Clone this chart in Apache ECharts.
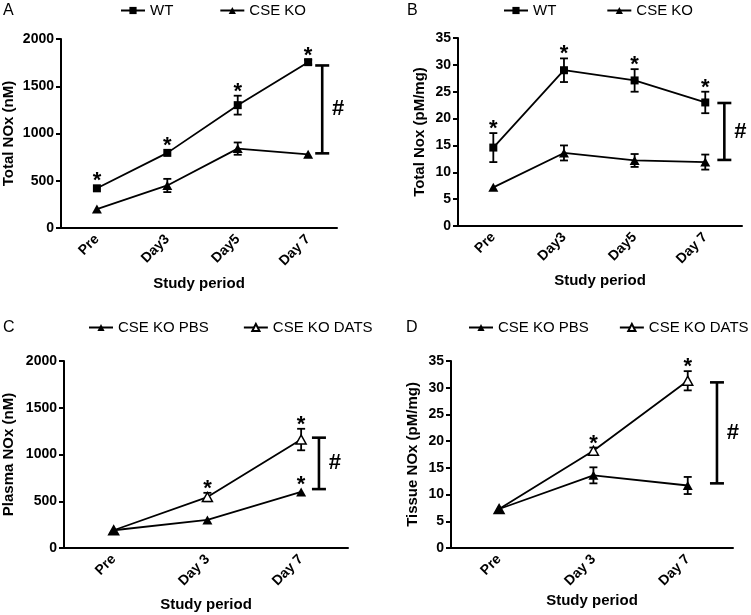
<!DOCTYPE html>
<html><head><meta charset="utf-8">
<script src="https://cdn.jsdelivr.net/npm/echarts@6/dist/echarts.min.js"></script>
<style>html,body{margin:0;padding:0;background:#fff}#c{width:751px;height:615px}</style>
</head><body><div id="c"></div>
<script>
// ---------- data ----------
const catsAB = ['Pre', 'Day3', 'Day5', 'Day 7'];
const catsCD = ['Pre', 'Day 3', 'Day 7'];

// Panel A: Total NOx (nM)
const A_WT = [420, 795, 1300, 1755];
const A_WT_err = [0, 0, 100, 25];
const A_KO = [200, 450, 840, 780];
const A_KO_err = [0, 70, 65, 0];
const A_bracket = [790, 1720];

// Panel B: Total Nox (pM/mg)
const B_WT = [14.6, 29.0, 27.1, 23.0];
const B_WT_err = [2.7, 2.2, 2.1, 2.0];
const B_KO = [7.2, 13.6, 12.2, 11.9];
const B_KO_err = [0, 1.4, 1.2, 1.4];
const B_bracket = [12.3, 22.9];

// Panel C: Plasma NOx (nM)
const C_PBS = [190, 300, 600];
const C_PBS_err = [0, 0, 0];
const C_DATS = [190, 545, 1160];
const C_DATS_err = [0, 45, 115];
const C_bracket = [630, 1180];

// Panel D: Tissue NOx (pM/mg)
const D_PBS = [7.3, 13.6, 11.7];
const D_PBS_err = [0, 1.5, 1.6];
const D_DATS = [7.3, 18.2, 31.3];
const D_DATS_err = [0, 0.6, 1.8];
const D_bracket = [12.1, 31.0];

// significance marks: [series key, category index]
const A_stars = [['WT', 0], ['WT', 1], ['WT', 2], ['WT', 3]];
const B_stars = [['WT', 0], ['WT', 1], ['WT', 2], ['WT', 3]];
const C_stars = [['DATS', 1], ['DATS', 2], ['PBS', 2]];
const D_stars = [['DATS', 1], ['DATS', 2]];

const yTicksA = {min: 0, max: 2000, interval: 500};
const yTicksB = {min: 0, max: 35, interval: 5};

// ---------- helpers ----------
const FONT = 'Liberation Sans, Arial, sans-serif';
const panels = [
  {grid: {left: 60, top: 39, width: 277, height: 189}, xr: [-0.51, 3.41], cats: catsAB, y: yTicksA,
   yname: 'Total NOx (nM)', ygap: 45, xgap: 48,
   series: {WT: [A_WT, A_WT_err, 'rect', '#000'], KO: [A_KO, A_KO_err, 'triangle', '#000']},
   names: {WT: 'WT', KO: 'CSE KO'}, stars: A_stars, bracket: [3.2, A_bracket], order: ['WT', 'KO']},
  {grid: {left: 458, top: 38, width: 284, height: 188}, xr: [-0.5, 3.52], cats: catsAB, y: yTicksB,
   yname: 'Total Nox (pM/mg)', ygap: 31, xgap: 47,
   series: {WT: [B_WT, B_WT_err, 'rect', '#000'], KO: [B_KO, B_KO_err, 'triangle', '#000']},
   names: {WT: 'WT', KO: 'CSE KO'}, stars: B_stars, bracket: [3.27, B_bracket], order: ['WT', 'KO']},
  {grid: {left: 63, top: 361, width: 285, height: 187}, xr: [-0.53, 2.5], cats: catsCD, y: yTicksA,
   yname: 'Plasma NOx (nM)', ygap: 48, xgap: 49,
   series: {PBS: [C_PBS, C_PBS_err, 'triangle', '#000'], DATS: [C_DATS, C_DATS_err, 'triangle', '#fff']},
   names: {PBS: 'CSE KO PBS', DATS: 'CSE KO DATS'}, stars: C_stars, bracket: [2.19, C_bracket], order: ['PBS', 'DATS']},
  {grid: {left: 451, top: 361, width: 282, height: 187}, xr: [-0.51, 2.48], cats: catsCD, y: yTicksB,
   yname: 'Tissue NOx (pM/mg)', ygap: 31, xgap: 45,
   series: {PBS: [D_PBS, D_PBS_err, 'triangle', '#000'], DATS: [D_DATS, D_DATS_err, 'triangle', '#fff']},
   names: {PBS: 'CSE KO PBS', DATS: 'CSE KO DATS'}, stars: D_stars, bracket: [2.31, D_bracket], order: ['PBS', 'DATS']}
];

const grids = [], xAxes = [], yAxes = [], series = [];
panels.forEach((p, i) => {
  grids.push(Object.assign({containLabel: false}, p.grid));
  xAxes.push({
    type: 'value', gridIndex: i, min: p.xr[0], max: p.xr[1],
    name: 'Study period', nameLocation: 'middle', nameGap: p.xgap,
    nameTextStyle: {fontFamily: FONT, fontWeight: 'bold', fontSize: 15, color: '#000'},
    axisLine: {show: true, onZero: false, lineStyle: {color: '#000', width: 2}},
    axisTick: {show: false},
    splitLine: {show: false},
    axisLabel: {
      customValues: p.cats.map((c, k) => k),
      formatter: v => p.cats[Math.round(v)] || '',
      rotate: 45, margin: 9, fontFamily: FONT, fontWeight: 'bold', fontSize: 14, color: '#000'
    }
  });
  yAxes.push({
    type: 'value', gridIndex: i, min: p.y.min, max: p.y.max, interval: p.y.interval,
    name: p.yname, nameLocation: 'middle', nameGap: p.ygap, nameRotate: 90,
    nameTextStyle: {fontFamily: FONT, fontWeight: 'bold', fontSize: 15, color: '#000'},
    axisLine: {show: true, onZero: false, lineStyle: {color: '#000', width: 2}},
    axisTick: {show: true, length: 5, lineStyle: {color: '#000', width: 2}},
    splitLine: {show: false},
    axisLabel: {margin: 7, fontFamily: FONT, fontWeight: 'bold', fontSize: 14, color: '#000',
      formatter: v => String(v)}
  });
  // error bars
  p.order.forEach(key => {
    const [vals, errs] = p.series[key];
    series.push({
      type: 'custom', xAxisIndex: i, yAxisIndex: i, z: 2, silent: true,
      data: vals.map((v, k) => [k, v - errs[k], v + errs[k]]).filter((d, k) => errs[k] > 0),
      renderItem: (params, api) => {
        const lo = api.coord([api.value(0), api.value(1)]);
        const hi = api.coord([api.value(0), api.value(2)]);
        const w = 4;
        const st = {stroke: '#000', lineWidth: 1.8};
        return {type: 'group', children: [
          {type: 'line', shape: {x1: lo[0], y1: lo[1], x2: hi[0], y2: hi[1]}, style: st},
          {type: 'line', shape: {x1: lo[0] - w, y1: lo[1], x2: lo[0] + w, y2: lo[1]}, style: st},
          {type: 'line', shape: {x1: hi[0] - w, y1: hi[1], x2: hi[0] + w, y2: hi[1]}, style: st}
        ]};
      }
    });
  });
  // lines (first key drawn on top)
  p.order.forEach((key, j) => {
    const [vals, errs, sym, fill] = p.series[key];
    series.push({
      type: 'line', name: p.names[key], xAxisIndex: i, yAxisIndex: i, z: 4 - j,
      data: vals.map((v, k) => [k, v]),
      symbol: sym, symbolSize: sym === 'rect' ? 8 : [10, 9],
      lineStyle: {color: '#000', width: 1.8},
      itemStyle: {color: fill, borderColor: '#000', borderWidth: fill === '#fff' ? 1.5 : 0},
      emphasis: {disabled: true}, animation: false
    });
  });
  // stars
  series.push({
    type: 'custom', xAxisIndex: i, yAxisIndex: i, z: 5, silent: true,
    data: p.stars.map(([key, k]) => {
      const [vals, errs] = p.series[key];
      return [k, vals[k] + errs[k], errs[k] > 0 ? 1 : 0];
    }),
    renderItem: (params, api) => {
      const pt = api.coord([api.value(0), api.value(1)]);
      const off = api.value(2) ? 4 : 7;
      return {type: 'text', x: pt[0], y: pt[1] - off,
        style: {text: '*', fontFamily: FONT, fontWeight: 'bold', fontSize: 22, fill: '#000',
          align: 'center', verticalAlign: 'middle'}};
    }
  });
  // bracket with #
  series.push({
    type: 'custom', xAxisIndex: i, yAxisIndex: i, z: 5, silent: true,
    data: [[p.bracket[0], p.bracket[1][0], p.bracket[1][1]]],
    renderItem: (params, api) => {
      const lo = api.coord([api.value(0), api.value(1)]);
      const hi = api.coord([api.value(0), api.value(2)]);
      const w = 7;
      const st = {stroke: '#000', lineWidth: 2.6};
      return {type: 'group', children: [
        {type: 'line', shape: {x1: lo[0], y1: lo[1], x2: hi[0], y2: hi[1]}, style: st},
        {type: 'line', shape: {x1: lo[0] - w, y1: lo[1], x2: lo[0] + w, y2: lo[1]}, style: st},
        {type: 'line', shape: {x1: hi[0] - w, y1: hi[1], x2: hi[0] + w, y2: hi[1]}, style: st},
        {type: 'text', x: lo[0] + 16, y: (lo[1] + hi[1]) / 2,
          style: {text: '#', fontFamily: FONT, fontWeight: 'bold', fontSize: 22, fill: '#000',
            align: 'center', verticalAlign: 'middle'}}
      ]};
    }
  });
});

const legendBase = {
  orient: 'horizontal', itemWidth: 24, itemHeight: 9, selectedMode: false, width: 400, padding: 0,
  textStyle: {fontFamily: FONT, fontSize: 15, color: '#000'}
};
const legends = [
  Object.assign({}, legendBase, {left: 120, top: 3, itemGap: 46, data: ['WT', 'CSE KO']}),
  Object.assign({}, legendBase, {left: 503, top: 3, itemGap: 50, data: ['WT', 'CSE KO']}),
  Object.assign({}, legendBase, {left: 88, top: 320, itemGap: 34, data: ['CSE KO PBS', 'CSE KO DATS']}),
  Object.assign({}, legendBase, {left: 468, top: 320, itemGap: 30, data: ['CSE KO PBS', 'CSE KO DATS']})
];

const letter = (t, x, y) => ({type: 'text', left: x, top: y,
  style: {text: t, fontFamily: FONT, fontSize: 16, fill: '#000'}});

const chart = echarts.init(document.getElementById('c'), null, {renderer: 'canvas'});
chart.setOption({
  animation: false,
  backgroundColor: '#fff',
  grid: grids, xAxis: xAxes, yAxis: yAxes, series: series, legend: legends,
  graphic: [letter('A', 3, 3), letter('B', 407, 3), letter('C', 3, 320), letter('D', 406, 320)]
});
</script>
</body></html>
